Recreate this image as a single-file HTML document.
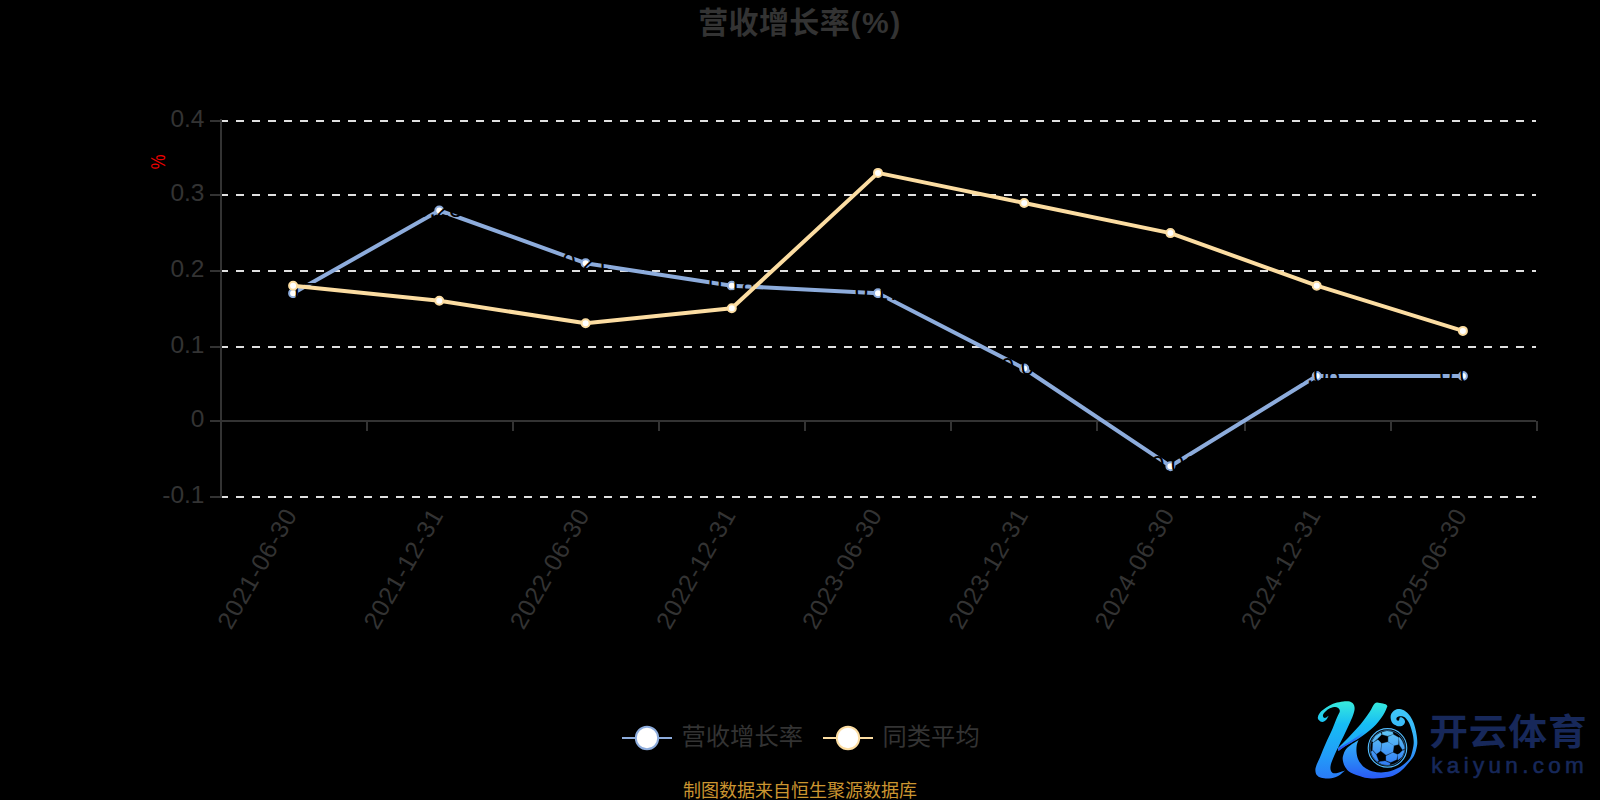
<!DOCTYPE html>
<html lang="zh-CN">
<head>
<meta charset="utf-8">
<title>营收增长率(%)</title>
<style>
html,body{margin:0;padding:0;background:#000;}
body{width:1600px;height:800px;overflow:hidden;position:relative;font-family:"Liberation Sans","Noto Sans CJK SC",sans-serif;}
svg{position:absolute;left:0;top:0;display:block;}
svg text{font-family:"Liberation Sans","Noto Sans CJK SC",sans-serif;}
</style>
</head>
<body>
<svg width="1600" height="800" viewBox="0 0 1600 800">
<defs>
<linearGradient id="lg" gradientUnits="userSpaceOnUse" x1="0" y1="6" x2="0" y2="84"><stop offset="0" stop-color="#38ecdc"/><stop offset="0.3" stop-color="#17bdf5"/><stop offset="0.7" stop-color="#229cf8"/><stop offset="1" stop-color="#2a7af7"/></linearGradient>
<linearGradient id="lg2" gradientUnits="userSpaceOnUse" x1="0" y1="14" x2="0" y2="84"><stop offset="0" stop-color="#3fc8f8"/><stop offset="0.44" stop-color="#34b0f8"/><stop offset="0.75" stop-color="#2a84f6"/><stop offset="1" stop-color="#2a58f6"/></linearGradient>
<linearGradient id="sh" gradientUnits="userSpaceOnUse" x1="30" y1="53" x2="56" y2="38"><stop offset="0" stop-color="#2a50f2" stop-opacity="1"/><stop offset="0.6" stop-color="#2a62f4" stop-opacity="0.8"/><stop offset="1" stop-color="#2a80f5" stop-opacity="0"/></linearGradient>
<linearGradient id="bg" gradientUnits="userSpaceOnUse" x1="0" y1="35" x2="0" y2="72"><stop offset="0" stop-color="#62c8f5"/><stop offset="1" stop-color="#2e78f5"/></linearGradient>
</defs>
<rect width="1600" height="800" fill="#000"/>
<text x="800" y="33" text-anchor="middle" font-size="30" font-weight="bold" fill="#333" letter-spacing="0.35">营收增长率<tspan letter-spacing="1.5" dx="0.6">(%)</tspan></text>
<g stroke="#e0e0e0" stroke-width="2" stroke-dasharray="8 8" fill="none">
<path d="M220 121H1536"/>
<path d="M220 195H1536"/>
<path d="M220 271H1536"/>
<path d="M220 347H1536"/>
<path d="M220 497H1536"/>
</g>
<g stroke="#333" stroke-width="2" fill="none">
<path d="M221 119V498"/>
<path d="M210 121H220"/>
<path d="M210 195H220"/>
<path d="M210 271H220"/>
<path d="M210 347H220"/>
<path d="M210 421H220"/>
<path d="M210 497H220"/>
<path d="M220 421H1536"/>
<path d="M367 421v10"/>
<path d="M513 421v10"/>
<path d="M659 421v10"/>
<path d="M805 421v10"/>
<path d="M951 421v10"/>
<path d="M1097 421v10"/>
<path d="M1245 421v10"/>
<path d="M1391 421v10"/>
<path d="M1537 421v10"/>
</g>
<g font-size="24.5" fill="#333" text-anchor="end">
<text x="204.5" y="126.5">0.4</text>
<text x="204.5" y="200.5">0.3</text>
<text x="204.5" y="276.5">0.2</text>
<text x="204.5" y="352.5">0.1</text>
<text x="204.5" y="426.5">0</text>
<text x="204.5" y="502.5">-0.1</text>
</g>
<text transform="translate(165.2,162) rotate(-90) scale(0.83,1)" font-size="20" fill="#ee0000" text-anchor="middle">%</text>
<g font-size="24.5" fill="#333" text-anchor="end" letter-spacing="0.9">
<text transform="translate(293.1,512) rotate(-60)" x="0.5" y="5.5">2021-06-30</text>
<text transform="translate(439.3,512) rotate(-60)" x="0.5" y="5.5">2021-12-31</text>
<text transform="translate(585.6,512) rotate(-60)" x="0.5" y="5.5">2022-06-30</text>
<text transform="translate(731.8,512) rotate(-60)" x="0.5" y="5.5">2022-12-31</text>
<text transform="translate(878.0,512) rotate(-60)" x="0.5" y="5.5">2023-06-30</text>
<text transform="translate(1024.2,512) rotate(-60)" x="0.5" y="5.5">2023-12-31</text>
<text transform="translate(1170.4,512) rotate(-60)" x="0.5" y="5.5">2024-06-30</text>
<text transform="translate(1316.7,512) rotate(-60)" x="0.5" y="5.5">2024-12-31</text>
<text transform="translate(1462.9,512) rotate(-60)" x="0.5" y="5.5">2025-06-30</text>
</g>
<polyline points="293.1,293.3 439.3,210.5 585.6,263.2 731.8,285.7 878.0,293.3 1024.2,368.5 1170.4,466.2 1316.7,376.0 1462.9,376.0" fill="none" stroke="#8dacdc" stroke-width="4" stroke-linejoin="bevel"/>
<g fill="#fff" stroke="#8dacdc" stroke-width="2">
<circle cx="293.1" cy="293.3" r="4"/>
<circle cx="439.3" cy="210.5" r="4"/>
<circle cx="585.6" cy="263.2" r="4"/>
<circle cx="731.8" cy="285.7" r="4"/>
<circle cx="878.0" cy="293.3" r="4"/>
<circle cx="1024.2" cy="368.5" r="4"/>
<circle cx="1170.4" cy="466.2" r="4"/>
<circle cx="1316.7" cy="376.0" r="4"/>
<circle cx="1462.9" cy="376.0" r="4"/>
</g>
<g font-size="24" fill="#000" text-anchor="middle">
<text x="293.1" y="299.8">0.17</text>
<text x="439.3" y="217.0">0.28</text>
<text x="585.6" y="269.7">0.21</text>
<text x="731.8" y="292.2">0.18</text>
<text x="878.0" y="299.8">0.17</text>
<text x="1024.2" y="375.0">0.07</text>
<text x="1170.4" y="472.7">-0.06</text>
<text x="1316.7" y="382.5">0.06</text>
<text x="1462.9" y="382.5">0.06</text>
</g>
<polyline points="293.1,285.7 439.3,300.8 585.6,323.3 731.8,308.3 878.0,172.9 1024.2,203.0 1170.4,233.1 1316.7,285.7 1462.9,330.9" fill="none" stroke="#fcdda2" stroke-width="4" stroke-linejoin="bevel"/>
<g fill="#fff" stroke="#fcdda2" stroke-width="2">
<circle cx="293.1" cy="285.7" r="4"/>
<circle cx="439.3" cy="300.8" r="4"/>
<circle cx="585.6" cy="323.3" r="4"/>
<circle cx="731.8" cy="308.3" r="4"/>
<circle cx="878.0" cy="172.9" r="4"/>
<circle cx="1024.2" cy="203.0" r="4"/>
<circle cx="1170.4" cy="233.1" r="4"/>
<circle cx="1316.7" cy="285.7" r="4"/>
<circle cx="1462.9" cy="330.9" r="4"/>
</g>
<path d="M622 738H672" stroke="#8dacdc" stroke-width="2"/>
<circle cx="647" cy="738" r="11.2" fill="#fff" stroke="#8dacdc" stroke-width="2"/>
<text x="681.5" y="744.5" font-size="24.3" fill="#333">营收增长率</text>
<path d="M823 738H873" stroke="#fcdda2" stroke-width="2"/>
<circle cx="848" cy="738" r="11.2" fill="#fff" stroke="#fcdda2" stroke-width="2"/>
<text x="882.5" y="744.5" font-size="24.3" fill="#333">同类平均</text>
<text x="800" y="797" text-anchor="middle" font-size="18" fill="#cb9530">制图数据来自恒生聚源数据库</text>
<g id="logo" transform="translate(1310,695)">
<path fill="url(#lg)" d="M34.90 6.20C32.77 6.37 29.63 6.85 27.00 7.60C24.37 8.35 21.73 9.25 19.10 10.70C16.47 12.15 13.07 14.43 11.20 16.30C9.33 18.17 8.27 20.40 7.90 21.90C7.53 23.40 8.25 24.45 9.00 25.30C9.75 26.15 11.18 27.10 12.40 27.00C13.62 26.90 15.27 25.73 16.30 24.70C17.33 23.67 18.22 21.45 18.60 20.80C18.22 21.08 17.05 22.17 16.30 22.50C15.55 22.83 14.67 23.08 14.10 22.80C13.53 22.52 12.90 21.60 12.90 20.80C12.90 20.00 13.15 19.12 14.10 18.00C15.05 16.88 16.92 15.08 18.60 14.10C20.28 13.12 22.62 12.30 24.20 12.10C25.78 11.90 27.17 12.20 28.10 12.90C29.03 13.60 29.98 14.70 29.80 16.30C29.62 17.90 28.22 19.60 27.00 22.50C25.78 25.40 24.38 29.38 22.50 33.70C20.62 38.02 17.77 43.70 15.70 48.40C13.63 53.10 11.68 58.15 10.10 61.90C8.52 65.65 6.98 68.65 6.20 70.90C5.42 73.15 5.32 73.90 5.40 75.40C5.48 76.90 5.73 78.68 6.70 79.90C7.67 81.12 9.13 82.10 11.20 82.70C13.27 83.30 16.28 83.78 19.10 83.50C21.92 83.22 25.43 82.32 28.10 81.00C30.77 79.68 33.93 76.50 35.10 75.60C33.93 75.97 30.02 77.37 28.10 77.80C26.18 78.23 24.82 78.60 23.60 78.20C22.38 77.80 21.27 76.82 20.80 75.40C20.33 73.98 20.23 72.15 20.80 69.70C21.37 67.25 22.75 64.07 24.20 60.70C25.65 57.33 27.35 54.00 29.50 49.50C31.65 45.00 34.98 38.20 37.10 33.70C39.22 29.20 41.00 25.45 42.20 22.50C43.40 19.55 43.92 17.75 44.30 16.00C44.68 14.25 44.68 13.20 44.50 12.00C44.32 10.80 43.98 9.70 43.20 8.80C42.42 7.90 41.18 7.03 39.80 6.60C38.42 6.17 37.03 6.03 34.90 6.20Z"/>
<path fill="url(#lg)" d="M64.70 8.40C66.43 6.90 68.18 7.75 70.00 7.90C71.82 8.05 74.37 8.75 75.60 9.30C76.83 9.85 77.10 10.88 77.40 11.20C76.68 12.70 75.50 16.63 73.10 20.20C70.70 23.77 66.85 28.87 63.00 32.60C59.15 36.33 53.50 40.17 50.00 42.60C46.50 45.03 44.50 45.75 42.00 47.20C39.50 48.65 37.25 49.83 35.00 51.30C32.75 52.77 29.58 55.22 28.50 56.00C28.42 55.50 28.08 53.50 28.00 53.00C29.70 51.28 34.43 46.67 38.20 42.70C41.97 38.73 47.03 33.50 50.60 29.20C54.17 24.90 57.25 20.37 59.60 16.90C61.95 13.43 62.97 9.90 64.70 8.40Z"/>
<path fill="url(#lg2)" d="M48.60 44.90C47.50 45.58 44.10 47.44 42.00 49.00C39.90 50.56 37.50 52.25 36.00 54.25C34.50 56.25 33.50 58.99 33.00 61.00C32.50 63.01 32.62 64.42 33.00 66.30C33.38 68.18 34.05 70.43 35.30 72.30C36.55 74.17 37.63 75.88 40.50 77.50C43.37 79.12 49.00 81.00 52.50 82.00C56.00 83.00 58.38 83.32 61.50 83.50C64.62 83.68 67.75 83.53 71.25 83.10C74.75 82.67 79.38 81.96 82.50 80.90C85.62 79.84 87.62 78.57 90.00 76.75C92.38 74.93 94.43 72.62 96.75 70.00C99.07 67.38 102.21 64.12 103.90 61.00C105.59 57.88 106.35 53.92 106.90 51.25C107.45 48.58 107.35 47.44 107.20 45.00C107.05 42.56 106.58 39.42 106.00 36.60C105.42 33.78 104.63 30.63 103.70 28.10C102.77 25.57 101.80 23.37 100.40 21.40C99.00 19.43 97.08 17.52 95.30 16.30C93.52 15.08 91.48 14.28 89.70 14.10C87.92 13.92 86.02 14.37 84.60 15.20C83.18 16.03 81.85 17.70 81.20 19.10C80.55 20.50 80.50 22.10 80.70 23.60C80.90 25.10 81.37 26.88 82.40 28.10C83.43 29.32 85.50 30.38 86.90 30.90C88.30 31.42 89.68 31.38 90.80 31.20C91.92 31.02 92.90 30.50 93.60 29.80C94.30 29.10 94.90 27.93 95.00 27.00C95.10 26.07 94.72 24.95 94.20 24.20C93.68 23.45 92.62 22.77 91.90 22.50C91.18 22.23 90.32 22.37 89.90 22.60C89.48 22.83 89.48 23.68 89.40 23.90C89.30 24.15 89.13 25.12 88.80 25.40C88.47 25.68 87.78 25.75 87.40 25.60C87.02 25.45 86.63 24.97 86.50 24.50C86.37 24.03 86.35 23.27 86.60 22.80C86.85 22.33 87.30 21.95 88.00 21.70C88.70 21.45 89.87 21.28 90.80 21.30C91.73 21.32 92.67 21.37 93.60 21.80C94.53 22.23 95.50 22.90 96.40 23.90C97.30 24.90 98.23 26.30 99.00 27.80C99.77 29.30 100.40 31.07 101.00 32.90C101.60 34.73 102.17 36.78 102.60 38.80C103.03 40.82 103.47 42.97 103.60 45.00C103.73 47.03 103.85 48.33 103.40 51.00C102.95 53.67 101.88 58.50 100.90 61.00C99.92 63.50 98.82 64.50 97.50 66.00C96.18 67.50 94.75 68.73 93.00 70.00C91.25 71.27 89.17 72.55 87.00 73.60C84.83 74.65 82.62 75.65 80.00 76.30C77.38 76.95 74.13 77.47 71.30 77.50C68.47 77.53 65.55 77.17 63.00 76.50C60.45 75.83 57.92 74.67 56.00 73.50C54.08 72.33 52.83 71.08 51.50 69.50C50.17 67.92 48.83 66.08 48.00 64.00C47.17 61.92 46.70 59.33 46.50 57.00C46.30 54.67 46.45 52.02 46.80 50.00C47.15 47.98 48.30 45.75 48.60 44.90Z"/>
<path fill="url(#sh)" d="M28.5 56L35 51.3L42 47.2L50 42.6C54 39.5 57 36.5 60 33.5L57 33C52 38.5 43 45.5 28.3 53Z"/>
<circle cx="77.50" cy="52.94" r="19.25" fill="none" stroke="#52bafc" stroke-width="1.15"/>
<circle cx="77.50" cy="52.94" r="17.5" fill="#000" stroke="#48a8f8" stroke-width="0.5"/>
<clipPath id="bc"><circle cx="77.50" cy="52.94" r="17.15"/></clipPath>
<g clip-path="url(#bc)" fill="url(#bg)" stroke="url(#bg)" stroke-width="0.35" stroke-linejoin="round">
<path d="M72.00 48.56L77.94 47.00L83.88 50.44L82.94 57.00L76.06 60.12L71.06 56.06Z"/>
<path d="M72.00 37.31L77.00 36.06L82.62 37.00L83.12 39.19L77.62 41.06L72.31 39.50Z"/>
<path d="M78.25 41.69L83.25 39.50L88.56 42.62L88.25 49.50L83.88 50.44L78.25 46.69Z"/>
<path d="M62.94 47.94L67.94 44.81L71.38 48.25L70.44 56.06L66.38 58.88L62.62 54.81Z"/>
<path d="M62.00 46.06L65.44 40.75L70.75 37.62L71.38 39.81L67.62 43.56L63.25 47.31Z"/>
<path d="M89.50 42.31L92.00 45.75L95.12 53.25L92.62 54.81L89.50 50.12L88.88 42.94Z"/>
<path d="M76.06 61.06L82.94 57.62L87.31 59.50L86.69 64.50L80.75 67.31L76.06 65.44Z"/>
<path d="M89.50 58.56L92.62 55.44L95.12 55.12L92.00 62.00L87.94 65.12L87.62 59.50Z"/>
<path d="M61.06 57.00L62.31 55.44L66.06 59.50L68.56 66.06L67.00 67.00L62.62 62.00Z"/>
<path d="M69.50 66.69L75.12 66.06L80.12 68.25L79.50 70.12L73.88 70.12L68.88 67.94Z"/>
</g>
</g>
<g id="logotext" fill="#17285a">
<text transform="translate(1429.2,744.7) scale(1.02,0.97)" font-size="38" font-weight="bold" letter-spacing="0.8">开云体育</text>
<text x="1431.3" y="773" font-size="22.5" letter-spacing="4.3" stroke="#17285a" stroke-width="0.6">kaiyun.com</text>
</g>
</svg>
</body>
</html>
